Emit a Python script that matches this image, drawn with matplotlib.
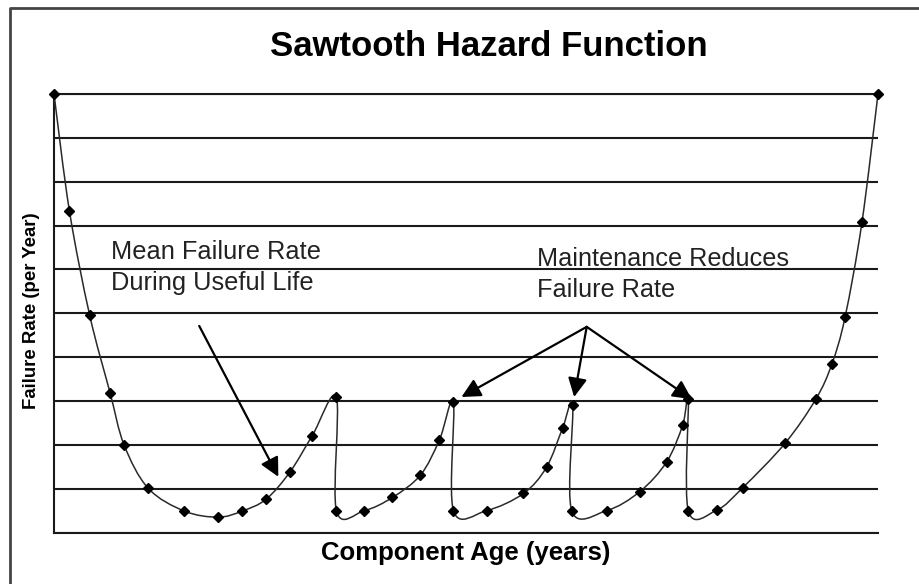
import numpy as np
import matplotlib
matplotlib.use("Agg")
import matplotlib.pyplot as plt
from matplotlib.path import Path
from matplotlib.patches import PathPatch
from matplotlib.lines import Line2D

plt.rcParams['font.family'] = ['Liberation Sans', 'DejaVu Sans']

# ---- data ----
age = [0.0, 0.75, 1.73, 2.72, 3.40, 4.57, 6.32, 7.97, 9.14, 10.30, 11.47, 12.54, 13.71,
       13.71, 15.07, 16.43, 17.79, 18.71, 19.39,
       19.39, 21.00, 22.79, 23.91, 24.69, 25.18,
       25.13, 26.83, 28.43, 29.74, 30.52, 30.79,
       30.79, 32.17, 33.43, 35.48, 36.98, 37.76, 38.40, 39.22, 40.0]
rate = [10.0, 7.33, 4.96, 3.19, 2.00, 1.01, 0.49, 0.35, 0.49, 0.76, 1.39, 2.21, 3.08,
        0.50, 0.50, 0.80, 1.31, 2.11, 2.97,
        0.50, 0.50, 0.89, 1.49, 2.38, 2.91,
        0.50, 0.50, 0.93, 1.61, 2.45, 3.04,
        0.50, 0.51, 1.02, 2.03, 3.04, 3.84, 4.91, 7.07, 10.0]
grid_levels = list(range(0, 11))

title = "Sawtooth Hazard Function"
xlabel = "Component Age (years)"
ylabel = "Failure Rate (per Year)"
note_left = "Mean Failure Rate\nDuring Useful Life"
note_right = "Maintenance Reduces\nFailure Rate"

W, H = 919, 584
fig = plt.figure(figsize=(W / 100, H / 100), dpi=100)
ax = fig.add_axes([54 / W, 1 - 532.5 / H, (878 - 54) / W, (532.5 - 94) / H])
ax.set_xlim(0, 40)
ax.set_ylim(0, 10)

ax.set_yticks(grid_levels)
ax.set_xticks([])
ax.tick_params(axis='y', length=0, labelleft=False)
ax.yaxis.grid(True, color='#1a1a1a', lw=1.5)
ax.set_axisbelow(True)
for s in ['left', 'bottom', 'top']:
    ax.spines[s].set_color('#1a1a1a')
    ax.spines[s].set_linewidth(1.5)
ax.spines['right'].set_visible(False)

# smooth (Excel-like) curve through the points
x = np.asarray(age, float)
y = np.asarray(rate, float)
P = np.column_stack([x, y])
verts = [P[0]]
codes = [Path.MOVETO]
n = len(P)
for i in range(n - 1):
    p0 = P[i - 1] if i > 0 else P[i]
    p1 = P[i]
    p2 = P[i + 1]
    p3 = P[i + 2] if i + 2 < n else P[i + 1]
    c1 = p1 + (p2 - p0) / 6.0
    c2 = p2 - (p3 - p1) / 6.0
    verts += [c1, c2, p2]
    codes += [Path.CURVE4] * 3
patch = PathPatch(Path(verts, codes), fill=False, edgecolor='#2a2a2a', lw=1.1,
                  transform=ax.transData, clip_on=False, zorder=3)
ax.add_patch(patch)
ax.plot(x, y, linestyle='none', marker='D', markersize=5, color='black',
        clip_on=False, zorder=4)

# annotations
arrow_kw = dict(arrowstyle='-|>,head_length=0.95,head_width=0.48', color='black',
                lw=1.6, shrinkA=0, shrinkB=0, mutation_scale=12)
ax.text(2.77, 5.53, note_left, fontsize=18.3, color='#222222', va='baseline',
        ha='left', linespacing=1.35)
ax.annotate('', xy=(10.89, 1.27), xytext=(7.05, 4.71), arrowprops=arrow_kw)

ax.text(23.47, 5.37, note_right, fontsize=18.2, color='#222222', va='baseline',
        ha='left', linespacing=1.37)
for tip in [(19.78, 3.09), (25.25, 3.09), (30.96, 3.04)]:
    ax.annotate('', xy=tip, xytext=(25.86, 4.69), arrowprops=arrow_kw)

fig.text(489 / W, 1 - 46 / H, title, fontsize=25, fontweight='bold',
         ha='center', va='center')
fig.text(466 / W, 1 - 553 / H, xlabel, fontsize=18.5, fontweight='bold',
         ha='center', va='center')
fig.text(32 / W, 1 - 311 / H, ylabel, fontsize=13.4, fontweight='bold',
         ha='center', va='center', rotation=90)

# figure frame (left and top edges visible)
fig.add_artist(Line2D([10 / W, 10 / W, 1.0], [0.0, 1 - 8 / H, 1 - 8 / H],
                      transform=fig.transFigure, color='#444444', lw=2))

fig.savefig('out.png', dpi=100)
